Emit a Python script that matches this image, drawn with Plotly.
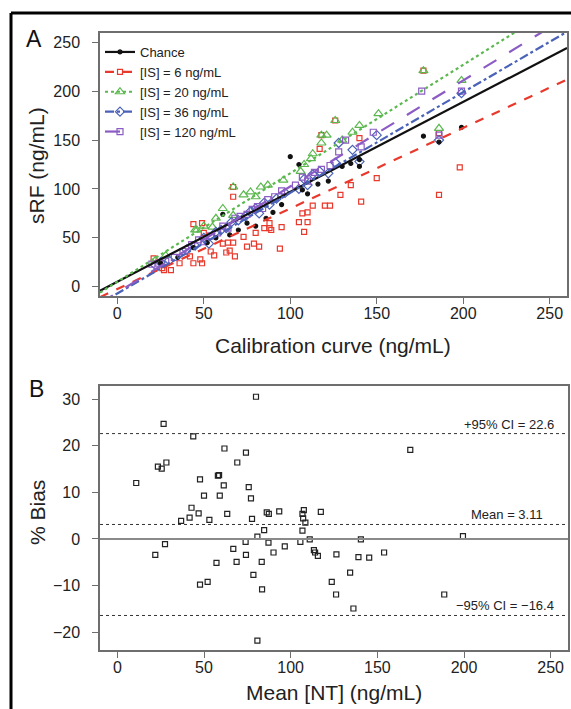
import plotly.graph_objects as go

# --- panel A data: sRF vs calibration curve (ng/mL) ---
chance_x = [25, 35, 44, 52, 57, 61, 65, 70, 75, 80, 86, 90, 95, 100, 105, 107, 110, 116, 122, 130, 135, 140, 140, 177, 186, 199]
chance_y = [24, 30, 40, 45, 50, 74, 53, 58, 65, 62, 70, 76, 84, 133, 125, 99, 95, 105, 108, 123, 126, 130, 123, 154, 148, 163]

is6_x = [21, 26, 27, 31, 36, 42, 44, 44, 48, 49, 49, 50, 54, 56, 61, 63, 64, 65, 67, 67, 67, 68, 73, 75, 79, 80,
         82, 85, 88, 88, 89, 94, 95, 105, 107, 108, 110, 110, 113, 117, 118, 120, 123, 126, 129, 135, 140, 141,
         150, 177, 186, 186, 198]
is6_y = [29, 19, 17, 17, 24, 31, 24, 64, 28, 24, 65, 55, 36, 32, 44, 35, 45, 37, 45, 92, 102, 31, 51, 41, 44, 55,
         41, 60, 65, 60, 58, 39, 61, 66, 75, 56, 66, 76, 83, 141, 155, 83, 83, 170, 94, 104, 152, 87,
         111, 221, 94, 157, 122]

is20_x = [22, 28, 45, 46, 50, 55, 57, 61, 67, 67, 73, 77, 80, 83, 87, 96, 106, 108, 112, 113, 118, 118, 121, 126,
          130, 136, 140, 151, 177, 186, 199]
is20_y = [27, 32, 58, 58, 62, 61, 70, 80, 73, 102, 94, 97, 92, 102, 104, 109, 118, 125, 131, 136, 147, 155, 155, 170,
          150, 158, 165, 177, 221, 162, 211]

is36_x = [22, 25, 30, 40, 45, 50, 53, 57, 60, 63, 66, 70, 74, 77, 80, 82, 85, 88, 92, 97, 105, 108, 110, 113, 117,
          122, 126, 128, 136, 140, 150, 186, 199]
is36_y = [22, 25, 27, 38, 42, 50, 44, 56, 58, 60, 66, 68, 72, 77, 80, 75, 86, 84, 90, 96, 100, 110, 104, 115, 118,
          116, 127, 147, 140, 128, 155, 150, 198]

is120_x = [20, 24, 28, 33, 38, 43, 47, 50, 54, 58, 61, 64, 68, 71, 75, 78, 81, 84, 87, 91, 95, 103, 107, 110, 114,
           118, 123, 128, 132, 141, 148, 176, 186, 199]
is120_y = [23, 24, 26, 30, 36, 43, 48, 46, 52, 55, 62, 60, 70, 72, 74, 79, 82, 80, 89, 92, 98, 104, 112, 108, 117,
           120, 124, 138, 150, 143, 158, 200, 155, 200]

# fitted lines: intercept, slope
fit_names = ["Chance", "[IS] = 6 ng/mL", "[IS] = 20 ng/mL", "[IS] = 36 ng/mL", "[IS] = 120 ng/mL"]
fit_intercepts = [5, -2.4, 5, -7, -6]
fit_slopes = [0.92, 0.824, 1.11, 1.03, 1.085]

# --- panel B data: Bland-Altman ---
mean_nt = [10.9, 21.9, 23.4, 25.6, 26.7, 28.3, 27.5, 36.8, 41.7, 42.8, 43.8, 46.9, 47.7, 47.7, 50.0, 52.1, 53.1,
           57.2, 58.0, 58.7, 59.1, 61.4, 61.8, 63.4, 66.9, 68.8, 69.2, 74.2, 74.0, 74.2, 75.8, 77.1, 77.7, 78.5,
           80.0, 80.8, 80.8, 83.3, 83.5, 84.7, 86.2, 87.4, 87.2, 90.1, 93.4, 96.6, 107.6, 106.8, 107.2, 108.5,
           117.4, 106.8, 105.6, 111.0, 113.4, 114.1, 115.7, 126.4, 140.5, 139.1, 145.3, 153.9, 123.7, 126.2, 134.3,
           136.2, 169.0, 188.6, 199.4]
pct_bias = [12.0, -3.4, 15.5, 15.1, 24.7, 16.4, -1.1, 3.9, 4.6, 6.7, 22.0, 5.5, 12.8, -9.8, 9.3, -9.2, 4.1,
            -5.1, 13.6, 13.7, 9.3, 11.5, 19.4, 5.4, -2.1, -4.9, 16.4, 18.5, -0.6, -3.4, 11.1, 8.7, 4.3, -7.7,
            30.5, 0.5, -21.8, -4.9, -10.8, 1.9, 5.7, 5.4, -0.8, -2.9, 5.9, -1.6, 6.2, 5.4, 4.4, 3.5,
            5.8, 1.8, -0.6, -0.1, -2.4, -2.9, -3.6, -3.3, -0.1, -3.9, -4.0, -2.9, -9.2, -11.9, -7.2,
            -14.9, 19.1, -11.9, 0.6]
bias_mean = 3.11
ci_upper = 22.6
ci_lower = -16.4

W, H = 571, 709
FONT = "Liberation Sans, Arial, sans-serif"

def px(x):
    return x / W

def py(y):
    return 1 - y / H

fig = go.Figure()

colors = ["#111111", "#e8392c", "#5bb84e", "#4a62b8", "#8b5cc4"]
dashes = ["solid", "dash", "dot", "dashdot", "longdash"]
symbols = ["circle", "square-open", "triangle-up-open", "diamond-open", "square-open"]
sizes = [4, 5, 8, 7, 6]
xs = [chance_x, is6_x, is20_x, is36_x, is120_x]
ys = [chance_y, is6_y, is20_y, is36_y, is120_y]

# scatter points (no legend) then fit lines with legend
for i in [1, 2, 3, 4, 0]:
    fig.add_trace(go.Scatter(
        x=xs[i], y=ys[i], mode="markers", xaxis="x", yaxis="y",
        marker=dict(symbol=symbols[i], size=sizes[i], color=colors[i], line=dict(width=1.2, color=colors[i])),
        showlegend=False, hoverinfo="x+y"
    ))

line_x = [-10, 260]
for i in range(5):
    fig.add_trace(go.Scatter(
        x=line_x, y=[fit_intercepts[i] + fit_slopes[i] * v for v in line_x],
        mode="lines", xaxis="x", yaxis="y", name=fit_names[i],
        line=dict(color=colors[i], dash=dashes[i], width=2.2),
        showlegend=False
    ))
    # legend entry: line + marker
    fig.add_trace(go.Scatter(
        x=[None], y=[None], mode="lines+markers", xaxis="x", yaxis="y", name=fit_names[i],
        line=dict(color=colors[i], dash=dashes[i], width=2.2),
        marker=dict(symbol=symbols[i], size=sizes[i], color=colors[i], line=dict(width=1.2, color=colors[i])),
    ))

# panel B
fig.add_trace(go.Scatter(
    x=mean_nt, y=pct_bias, mode="markers", xaxis="x2", yaxis="y2",
    marker=dict(symbol="square-open", size=5, color="#222222", line=dict(width=1.2)),
    showlegend=False
))

axis_common = dict(
    showline=True, mirror=True, linecolor="#6e6e6e", linewidth=1.5,
    ticks="outside", ticklen=6, tickcolor="#6e6e6e", tickwidth=1.2,
    showgrid=False, zeroline=False,
    tickfont=dict(family=FONT, size=16, color="#222222"),
)
xticks = dict(tickvals=[0, 50, 100, 150, 200, 250], ticklabelstandoff=-4, **axis_common)
yticks = dict(ticklabelstandoff=9, **axis_common)

fig.update_layout(
    width=W, height=H,
    margin=dict(l=0, r=0, t=0, b=0, autoexpand=False),
    paper_bgcolor="white", plot_bgcolor="white",
    font=dict(family=FONT, color="#222222"),
    xaxis=dict(domain=[px(100), px(567)], anchor="y", range=[-10, 260], **xticks),
    yaxis=dict(domain=[py(296), py(33)], anchor="x", range=[-9.5, 259.5],
               tickvals=[0, 50, 100, 150, 200, 250], **yticks),
    xaxis2=dict(domain=[px(100), px(568)], anchor="y2", range=[-10, 260], **xticks),
    yaxis2=dict(domain=[py(650), py(386)], anchor="x2", range=[-23.8, 32.8],
                tickvals=[-20, -10, 0, 10, 20, 30], **yticks),
    legend=dict(x=px(100), y=py(37), xanchor="left", yanchor="top",
                bgcolor="rgba(0,0,0,0)", font=dict(family=FONT, size=13, color="#222222"),
                tracegroupgap=0, itemwidth=30),
)

# reference lines in panel B
for val in [ci_upper, bias_mean, ci_lower]:
    fig.add_shape(type="line", xref="x2 domain", yref="y2", x0=0, x1=1, y0=val, y1=val,
                  line=dict(color="#333333", width=1, dash="dot"))
fig.add_shape(type="line", xref="x2 domain", yref="y2", x0=0, x1=1, y0=0, y1=0,
              line=dict(color="#8a8a8a", width=1.8))

labels_b = [(f"+95% CI = {ci_upper:.1f}", ci_upper), (f"Mean = {bias_mean:.2f}", bias_mean),
            (f"\u221295% CI = \u2212{abs(ci_lower):.1f}", ci_lower)]
label_x = [253, 247, 253]
for (txt, val), lx in zip(labels_b, label_x):
    fig.add_annotation(x=lx, y=val, xref="x2", yref="y2", text=txt, showarrow=False,
                       xanchor="right", yanchor="bottom", yshift=0,
                       font=dict(family=FONT, size=13, color="#222222"))

# axis titles and panel letters
titles = [
    ("Calibration curve (ng/mL)", 333, 345, 0),
    ("sRF (ng/mL)", 37, 165, -90),
    ("Mean [NT] (ng/mL)", 334, 692, 0),
    ("% Bias", 37, 512, -90),
]
for txt, tx, ty, ang in titles:
    fig.add_annotation(x=px(tx), y=py(ty), xref="paper", yref="paper", text=txt, showarrow=False,
                       textangle=ang, xanchor="center", yanchor="middle",
                       font=dict(family=FONT, size=21, color="#222222"))

for letter, lx, ly in [("A", 34, 39), ("B", 36, 389)]:
    fig.add_annotation(x=px(lx), y=py(ly), xref="paper", yref="paper", text=letter, showarrow=False,
                       xanchor="center", yanchor="middle",
                       font=dict(family=FONT, size=23, color="#111111"))

# outer black frame (only left and top edges fall inside the window)
fig.add_shape(type="line", xref="paper", yref="paper", x0=px(11), x1=px(11), y0=0, y1=py(13),
              line=dict(color="black", width=3))
fig.add_shape(type="line", xref="paper", yref="paper", x0=px(11), x1=1, y0=py(13), y1=py(13),
              line=dict(color="black", width=3))

# drop the default page margin so the figure sits at the window origin
fig.write_html("out.html", config={"displayModeBar": False},
               post_script="document.body.style.margin='0px';")
